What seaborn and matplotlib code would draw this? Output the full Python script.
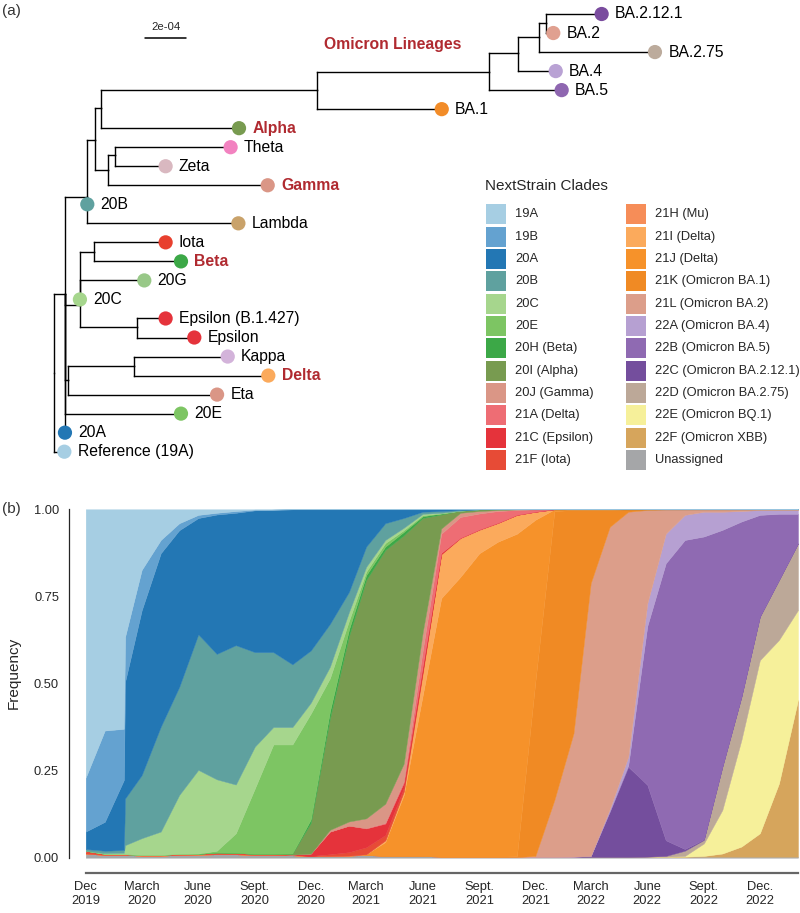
import numpy as np
import pandas as pd
import matplotlib
matplotlib.use("Agg")
import matplotlib.pyplot as plt
import matplotlib.dates as mdates
from matplotlib.patches import Rectangle
import seaborn as sns

sns.set_style("white")
plt.rcParams['font.family'] = ['Liberation Sans', 'DejaVu Sans']

# ---------------- Panel (a): tree data (divergence in units of 1e-4, row = tip order) ----------------
node_name = ['root', 'N1', 'Reference (19A)', '20A', 'N20B', '20B', 'Na', 'Noa', 'Nomi', 'No1', 'No2',
             'No3', 'No4', 'BA.2.12.1', 'BA.2', 'BA.2.75', 'BA.4', 'BA.5', 'BA.1', 'Alpha', 'Ntzg', 'Ntz',
             'Theta', 'Zeta', 'Gamma', 'Lambda', 'N20C', 'Nib', 'Iota', 'Beta', '20G', '20C', 'Neps',
             'Epsilon (B.1.427)', 'Epsilon', 'Nkde', 'Nkd', 'Kappa', 'Delta', 'Eta', '20E']
node_div = [0, 0.52, 0.49, 0.52, 1.61, 1.61, 1.99, 2.26, 12.80, 21.20, 22.63,
            23.64, 23.99, 26.70, 24.34, 29.30, 24.46, 24.75, 18.90, 9.01, 2.63, 2.96,
            8.60, 5.43, 10.41, 8.98, 1.25, 1.95, 5.43, 6.18, 4.39, 1.25, 4.05,
            5.43, 6.83, 0.68, 3.89, 8.46, 10.44, 7.94, 6.18]
node_row = [18.87, 14.73, 23, 22, 9.6, 10, 6.62, 4.94, 3.99, 3.03, 2.07,
            1.22, 0.46, 0, 1, 2, 3, 4, 5, 6, 8.2, 7.41,
            7, 8, 9, 11, 15.29, 12.49, 12, 13, 14, 15, 16.46,
            16, 17, 19.23, 18.48, 18, 19, 20, 21]
node_parent = [None, 'root', 'root', 'N1', 'N1', 'N20B', 'N20B', 'Na', 'Noa', 'Nomi', 'No1',
               'No2', 'No3', 'No4', 'No4', 'No3', 'No2', 'No1', 'Nomi', 'Noa', 'Na', 'Ntzg',
               'Ntz', 'Ntz', 'Ntzg', 'N20B', 'N1', 'N20C', 'Nib', 'Nib', 'N20C', 'N20C', 'N20C',
               'Neps', 'Neps', 'N1', 'Nkde', 'Nkd', 'Nkd', 'Nkde', 'N1']

tip_colors = {'Reference (19A)': '#A6CEE3', '20A': '#2377B4', '20B': '#5FA19F', 'BA.2.12.1': '#7A4C9E',
              'BA.2': '#E0A090', 'BA.2.75': '#BCAB9C', 'BA.4': '#B9A2D4', 'BA.5': '#8E66B0',
              'BA.1': '#F28C28', 'Alpha': '#789B50', 'Theta': '#F282C0', 'Zeta': '#D9B8C0',
              'Gamma': '#DA9686', 'Lambda': '#C9A26A', 'Iota': '#E8402E', 'Beta': '#3CA847',
              '20G': '#98C888', '20C': '#A6D68D', 'Epsilon (B.1.427)': '#E5333B', 'Epsilon': '#E5333B',
              'Kappa': '#D3B3DA', 'Delta': '#FBAA5C', 'Eta': '#DA9686', '20E': '#7DC563'}
highlight = ['Alpha', 'Gamma', 'Beta', 'Delta']
scale_bar_len = 2.0   # 2e-04 in units of 1e-4

# ---------------- Panel (b): clade frequency data ----------------
dates = ['2019-12-01', '2020-01-01', '2020-02-01', '2020-02-03', '2020-03-01', '2020-04-01', '2020-05-01',
         '2020-06-01', '2020-07-01', '2020-08-01', '2020-09-01', '2020-10-01', '2020-11-01', '2020-12-01',
         '2021-01-01', '2021-02-01', '2021-03-01', '2021-04-01', '2021-05-01', '2021-06-01', '2021-07-01',
         '2021-08-01', '2021-09-01', '2021-10-01', '2021-11-01', '2021-12-01', '2022-01-01', '2022-02-01',
         '2022-03-01', '2022-04-01', '2022-05-01', '2022-06-01', '2022-07-01', '2022-08-01', '2022-09-01',
         '2022-10-01', '2022-11-01', '2022-12-01', '2023-01-01', '2023-02-01']
Z = 0
f_19A = [.77, .635, .63, .366, .174, .088, .04, .016, .01, .005, .001, .001] + [Z] * 28
f_19B = [.155, .262, .147, .129, .116, .038, .02, .009, .005, .005, .002] + [Z] * 29
f_20A = [.05, .083, .201, .335, .473, .498, .45, .334, .40, .38, .407, .409, .445, .405, .329, .237, .107,
         .04, .025, .007, .005, .002] + [Z] * 18
f_20B = [.005, .007, .008, .134, .181, .301, .31, .389, .36, .40, .271, .215, .18, .15, .123, .058, .058,
         .048, .028, .006, .005, .002] + [Z] * 18
f_20C = [0, .002, .004, .026, .048, .067, .169, .24, .205, .14, .12, .05, .05, .031, .033, .025, .014,
         .009, .007, .004, .002] + [Z] * 19
f_20E = [0, 0, 0, 0, 0, 0, 0, .001, .005, .056, .188, .314, .313, .304, .095, .025, .01, .01, .005,
         .003] + [Z] * 20
f_20H = [Z] * 13 + [.01, .02, .019, .014, .01, .01, .005, .003] + [Z] * 19
f_20I = [Z] * 12 + [.003, .088, .32, .532, .684, .728, .655, .328, .04, .006, .005, .002] + [Z] * 16
f_20J = [Z] * 14 + [.005, .012, .028, .055, .05, .052, .015, .012, .007, .003, .002] + [Z] * 15
f_21A = [Z] * 16 + [.001, .002, .005, .045, .055, .06, .046, .034, .014, .007] + [Z] * 14
f_21C = [Z] * 13 + [.007, .065, .076, .054, .033, .015, .015, .003] + [Z] * 19
f_21F = [.008, .003, .002, .002, .002, .002, .003, .002, .005, .004, .003, .003, .002, 0, .005, .01,
         .02, .015, .01, .005] + [Z] * 20
f_21H = [Z] * 19 + [.005, .003, .002, .002, .001] + [Z] * 16
f_21I = [Z] * 17 + [.005, .01, .06, .124, .11, .066, .053, .054, .023] + [Z] * 14
f_21J = [Z] * 16 + [.002, .04, .175, .465, .742, .803, .871, .904, .926, .465, .005, .002, .002,
                    .002] + [Z] * 10
f_21K = [Z] * 24 + [.002, .50, .829, .641, .21, .048, .007, .002] + [Z] * 8
f_21L = [Z] * 25 + [.003, .164, .354, .783, .81, .703, .268, .07, .016, .007, .007, .005, .002, .002,
                    .002]
f_22A = [Z] * 29 + [.006, .025, .065, .085, .072, .071, .052, .03, .014, .011, .011]
f_22B = [Z] * 29 + [.002, .004, .456, .795, .887, .869, .68, .503, .292, .19, .085]
f_22C = [Z] * 27 + [.001, .003, .13, .259, .206, .045, .005, .002] + [Z] * 5
f_22D = [Z] * 32 + [.002, .015, .01, .124, .124, .125, .172, .191]
f_22E = [Z] * 33 + [.002, .036, .125, .306, .497, .412, .258]
f_22F = [Z] * 34 + [.002, .009, .029, .067, .21, .45]
f_UN = [.012, .008, .008, .008, .006, .006, .008, .009, .01, .01, .008, .008, .007, .005, .005, .006,
        .008, .005, .005, .005, .003, .003, .003, .003, .002, .002, .002, .002, .002, .002, .002, .003,
        .003, .003, .003, .003, .003, .003, .003, .003]

clades = ['19A', '19B', '20A', '20B', '20C', '20E', '20H (Beta)', '20I (Alpha)', '20J (Gamma)',
          '21A (Delta)', '21C (Epsilon)', '21F (Iota)', '21H (Mu)', '21I (Delta)', '21J (Delta)',
          '21K (Omicron BA.1)', '21L (Omicron BA.2)', '22A (Omicron BA.4)', '22B (Omicron BA.5)',
          '22C (Omicron BA.2.12.1)', '22D (Omicron BA.2.75)', '22E (Omicron BQ.1)', '22F (Omicron XBB)',
          'Unassigned']
clade_values = [f_19A, f_19B, f_20A, f_20B, f_20C, f_20E, f_20H, f_20I, f_20J, f_21A, f_21C, f_21F,
                f_21H, f_21I, f_21J, f_21K, f_21L, f_22A, f_22B, f_22C, f_22D, f_22E, f_22F, f_UN]
clade_colors = ['#A6CEE3', '#64A2D0', '#2377B4', '#5FA19F', '#A6D68D', '#7DC563', '#3CA847', '#789B50',
                '#DA9686', '#EE6D74', '#E5333B', '#E74B36', '#F68D58', '#FBAA5C', '#F6922A', '#F08A24',
                '#DC9E8A', '#B6A0D2', '#8F6AB2', '#744E9D', '#BCA898', '#F6F09A', '#D6A55C', '#A5A6A8']
tick_labels = ['Dec\n2019', 'March\n2020', 'June\n2020', 'Sept.\n2020', 'Dec.\n2020', 'March\n2021',
               'June\n2021', 'Sept.\n2021', 'Dec.\n2021', 'March\n2022', 'June\n2022', 'Sept.\n2022',
               'Dec.\n2022']

RED = '#B02A30'
W, H = 800, 913
fig = plt.figure(figsize=(W / 100, H / 100), dpi=100)

# ---- tree axes (whole figure; x in 1e-4 divergence, y in tip rows) ----
x0, sx = 54.3, 20.5     # pixel of root, pixels per 1e-4
y0, sy = 14.0, 19.03    # pixel of first tip, pixels per row
ax_t = fig.add_axes([0, 0, 1, 1])
ax_t.set_xlim(-x0 / sx, (W - x0) / sx)
ax_t.set_ylim((H - y0) / sy, -y0 / sy)
ax_t.axis('off')

pos = {n: (d, r) for n, d, r in zip(node_name, node_div, node_row)}
for n, p in zip(node_name, node_parent):
    if p is None:
        continue
    px, pr = pos[p]
    cx, cr = pos[n]
    ax_t.plot([px, px], [pr, cr], color='black', lw=1.0, solid_capstyle='projecting', zorder=1)
    ax_t.plot([px, cx], [cr, cr], color='black', lw=1.0, solid_capstyle='projecting', zorder=1)

tips = pd.DataFrame({'name': [n for n in node_name if n in tip_colors],
                     'div': [pos[n][0] for n in node_name if n in tip_colors],
                     'row': [pos[n][1] for n in node_name if n in tip_colors]})
sns.scatterplot(data=tips, x='div', y='row', hue='name', palette=tip_colors, s=105, linewidth=0,
                legend=False, ax=ax_t, zorder=3)
ax_t.set_xlim(-x0 / sx, (W - x0) / sx)
ax_t.set_ylim((H - y0) / sy, -y0 / sy)
ax_t.axis('off')
for _, rr in tips.iterrows():
    hl = rr['name'] in highlight
    ax_t.annotate(rr['name'], (rr['div'], rr['row']), xytext=(9.6, 0), textcoords='offset points',
                  va='center', ha='left', fontsize=11.3, color=RED if hl else 'black',
                  fontweight='bold' if hl else 'normal')
ax_t.text(pos['Nomi'][0] + 0.35, 1.58, 'Omicron Lineages', color=RED, fontweight='bold', fontsize=11.3,
          va='center', ha='left')
# scale bar
sb_x, sb_row = (145 - x0) / sx, (38 - y0) / sy
ax_t.plot([sb_x, sb_x + scale_bar_len], [sb_row, sb_row], color='black', lw=1.1)
ax_t.text(sb_x + scale_bar_len / 2, sb_row - 0.33, '2e-04', ha='center', va='bottom', fontsize=8.2)

# ---- pixel overlay: panel letters + legend ----
ax_p = fig.add_axes([0, 0, 1, 1], facecolor='none')
ax_p.set_xlim(0, W)
ax_p.set_ylim(H, 0)
ax_p.axis('off')
ax_p.text(2, 11, '(a)', fontsize=11, va='center', ha='left', color='#333333')
ax_p.text(2, 509, '(b)', fontsize=11, va='center', ha='left', color='#333333')
ax_p.text(485, 186, 'NextStrain Clades', fontsize=11, va='center', ha='left')
for k, (lab, col) in enumerate(zip(clades, clade_colors)):
    c, r = divmod(k, 12)
    xs = 485.7 + 140 * c
    yc = 214.3 + 22.33 * r
    ax_p.add_patch(Rectangle((xs, yc - 10), 20.3, 20, facecolor=col, edgecolor='none'))
    ax_p.text(xs + 29.3, yc, lab, fontsize=9.3, va='center', ha='left')

# ---- panel (b): stacked area ----
ax_b = fig.add_axes([85.7 / W, (H - 857.7) / H, (798 - 85.7) / W, (857.7 - 509.3) / H])
xd = pd.to_datetime(dates)
vals = np.array(clade_values, dtype=float)
vals = vals / vals.sum(axis=0, keepdims=True)
order = list(range(len(clades)))[::-1]     # bottom: Unassigned ... top: 19A
ax_b.stackplot(xd, vals[order], colors=[clade_colors[i] for i in order], linewidth=0.3,
               edgecolor='face')
ax_b.set_xlim(xd[0], xd[-1])
ax_b.set_ylim(0, 1)
sns.despine(ax=ax_b, top=True, right=True)
ax_b.spines['left'].set_position(('outward', 12))
ax_b.spines['bottom'].set_position(('outward', 11))
ax_b.spines['left'].set_linewidth(0.9)
ax_b.spines['bottom'].set_color('#666666')
ax_b.spines['bottom'].set_linewidth(1.6)
ax_b.set_yticks([0, 0.25, 0.5, 0.75, 1.0])
ax_b.set_yticklabels(['0.00', '0.25', '0.50', '0.75', '1.00'])
major = pd.date_range('2019-12-01', '2022-12-01', freq='3MS')
ax_b.set_xticks(mdates.date2num(major))
ax_b.set_xticklabels(tick_labels, linespacing=1.15)
ax_b.xaxis.set_minor_locator(mdates.MonthLocator())
ax_b.tick_params(axis='x', which='both', direction='in', length=3.8, width=1.0, color='#666666',
                 labelsize=9.3, pad=6)
ax_b.tick_params(axis='y', direction='out', length=4.2, width=0.8, labelsize=9.3, pad=3)
ax_b.set_ylabel('Frequency', fontsize=11)
ax_b.yaxis.set_label_coords(-0.0914, 0.53)
ax_b.set_xlabel('')

fig.savefig('out.png', dpi=100)
